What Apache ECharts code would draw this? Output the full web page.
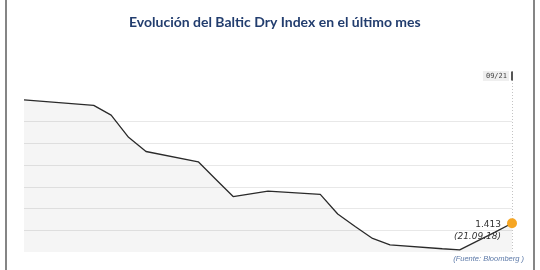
<!DOCTYPE html>
<html>
<head>
<meta charset="utf-8">
<script src="https://cdn.jsdelivr.net/npm/echarts@6/dist/echarts.min.js"></script>
<style>
html,body{margin:0;padding:0;background:#fff;}
#chart{width:540px;height:270px;}
</style>
</head>
<body>
<div id="chart"></div>
<script>
// ---- data ----
var titleText = 'Evolución del Baltic Dry Index en el último mes';
var sourceText = '(Fuente: Bloomberg )';
var dates = ['2018-08-24','2018-08-28','2018-08-29','2018-08-30','2018-08-31',
             '2018-09-03','2018-09-04','2018-09-05','2018-09-06','2018-09-07',
             '2018-09-10','2018-09-11','2018-09-12','2018-09-13','2018-09-14',
             '2018-09-17','2018-09-18','2018-09-19','2018-09-20','2018-09-21'];
var values = [1640,1630,1612,1571,1545,
              1526,1494,1462,1467,1472,
              1466,1430,1407,1385,1373,
              1366,1364,1380,1396,1413];
var gridValues = [1400,1440,1480,1520,1560,1600];
var yMin = 1360;
var yMax = 1695;

// ---- helpers ----
function dayNum(s){ var p = s.split('-'); return Date.UTC(+p[0], +p[1]-1, +p[2]) / 86400000; }
var d0 = dayNum(dates[0]);
var points = dates.map(function(d, i){ return [dayNum(d) - d0, values[i]]; });
var lastDay = points[points.length-1][0];
var lastVal = values[values.length-1];
var lp = dates[dates.length-1].split('-');
var topLabel = lp[1] + '/' + lp[2];
var dateLabel = '(' + lp[2] + '.' + lp[1] + '.' + lp[0].slice(2) + ')';
function fmtNum(v){ return String(v).replace(/\B(?=(\d{3})+(?!\d))/g, '.'); }

var chart = echarts.init(document.getElementById('chart'), null, {renderer:'canvas'});
chart.setOption({
  animation: false,
  title: [{
    text: titleText,
    left: 124,
    top: 10,
    textStyle: {fontFamily: 'Lato', fontSize: 14, fontWeight: 'bold', color: '#223d6e'}
  },{
    text: sourceText,
    right: 11,
    bottom: 2,
    textStyle: {fontFamily: 'Liberation Sans', fontSize: 7.5, fontStyle: 'italic', fontWeight: 'normal', color: '#5c79a8'}
  }],
  graphic: [
    {type:'rect', shape:{x:5, y:0, width:2, height:270}, style:{fill:'#858585'}, silent:true},
    {type:'rect', shape:{x:533, y:0, width:2, height:270}, style:{fill:'#858585'}, silent:true}
  ],
  grid: {left: 24, right: 28, top: 70, bottom: 18},
  xAxis: {type:'value', min:0, max:lastDay, show:false},
  yAxis: {type:'value', min:yMin, max:yMax, show:false},
  series: [{
    type: 'line',
    z: 1,
    data: [],
    markLine: {
      silent: true,
      z: 1,
      symbol: 'none',
      label: {show:false},
      lineStyle: {color:'#e8e8e8', width:1, type:'solid'},
      data: gridValues.map(function(v){ return {yAxis: v}; })
    }
  },{
    type: 'line',
    z: 3,
    data: points,
    showSymbol: false,
    symbol: 'none',
    lineStyle: {color:'#2a2a2a', width:1.3},
    areaStyle: {color:'rgba(0,0,0,0.055)', origin:'start'},
    markLine: {
      silent: true,
      z: 2,
      symbol: 'none',
      label: {show:false},
      lineStyle: {color:'#c4c4c4', width:1, type:[1,2]},
      data: [{xAxis: lastDay}]
    },
    markPoint: {
      silent: true,
      z: 6,
      data: [{
        coord: [lastDay, lastVal],
        symbol: 'circle',
        symbolSize: 10,
        itemStyle: {color:'#f6a623'},
        label: {
          show: true,
          position: 'left',
          distance: 6,
          offset: [0, 7],
          align: 'right',
          formatter: '{v|' + fmtNum(lastVal) + '}\n{d|' + dateLabel + '}',
          rich: {
            v: {fontFamily:'DejaVu Sans', fontSize:9, color:'#333', align:'right', lineHeight:12},
            d: {fontFamily:'DejaVu Sans', fontSize:9, fontStyle:'italic', color:'#333', align:'right', lineHeight:12}
          }
        }
      },{
        coord: [lastDay, yMax],
        symbol: 'rect',
        symbolSize: [2, 9],
        symbolOffset: [0, 6],
        itemStyle: {color:'#555'},
        label: {
          show: true,
          position: 'left',
          distance: 2,
          formatter: topLabel,
          fontFamily: 'DejaVu Sans Mono',
          fontSize: 7,
          color: '#444',
          backgroundColor: '#efefef',
          padding: [2, 2, 1, 3]
        }
      }]
    }
  }]
});
</script>
</body>
</html>
